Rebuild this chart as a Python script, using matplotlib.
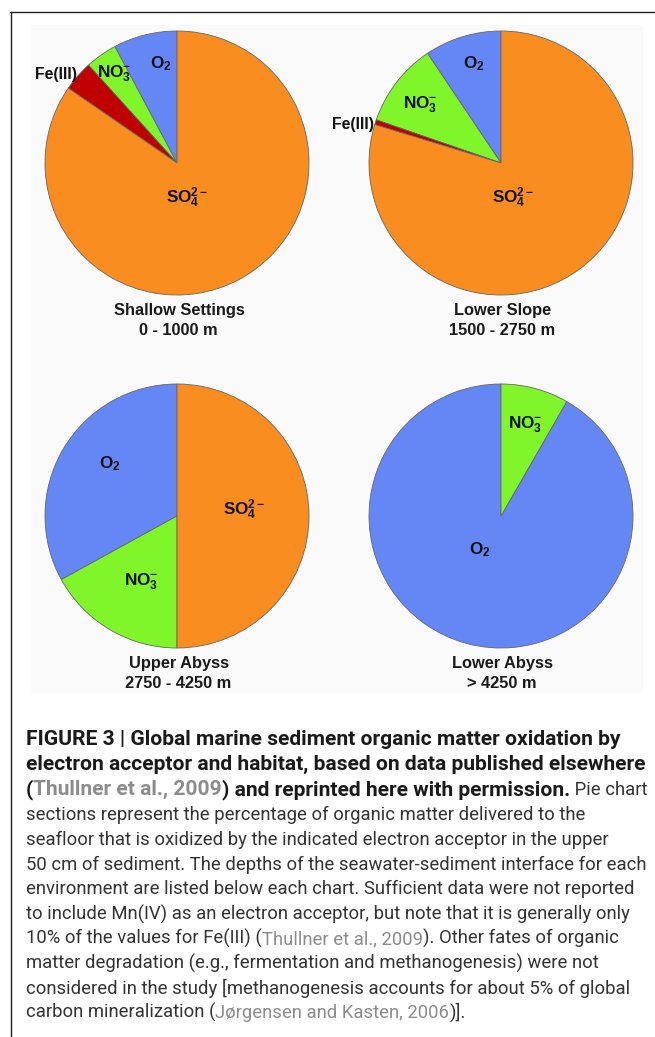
import matplotlib
matplotlib.use("Agg")
import matplotlib.pyplot as plt
from matplotlib.patches import Rectangle
from matplotlib.lines import Line2D
from matplotlib import font_manager

# ---------------- data ----------------
acceptors = ["O2", "NO3", "Fe(III)", "SO4"]
shallow_settings = [7.8, 3.9, 3.7, 84.6]
lower_slope = [9.4, 10.3, 0.6, 79.7]
upper_abyss = [33.0, 17.0, 0.0, 50.0]
lower_abyss = [91.7, 8.3, 0.0, 0.0]
habitats = ["Shallow Settings", "Lower Slope", "Upper Abyss", "Lower Abyss"]
depths = ["0 - 1000 m", "1500 - 2750 m", "2750 - 4250 m", "> 4250 m"]

colors = {"O2": "#6587f5", "NO3": "#80f52a", "Fe(III)": "#c00000", "SO4": "#f98d1f"}
label_text = {"O2": r"$\mathbf{O_2}$", "NO3": r"$\mathbf{NO_3^{-}}$",
              "Fe(III)": "Fe(III)", "SO4": r"$\mathbf{SO_4^{2-}}$"}

W, H = 655, 1037
plt.rcParams["mathtext.fontset"] = "custom"
plt.rcParams["mathtext.rm"] = "Liberation Sans:bold"
plt.rcParams["mathtext.bf"] = "Liberation Sans:bold"
plt.rcParams["mathtext.it"] = "Liberation Sans:bold"

fig = plt.figure(figsize=(W / 100, H / 100), dpi=100)
fig.patch.set_facecolor("white")

def fx(x):
    return x / W

def fy(y):
    return 1 - y / H

# frame lines
fig.add_artist(Line2D([fx(10), 1.0], [fy(11.5), fy(11.5)], color="#222222", lw=1.0))
fig.add_artist(Line2D([fx(10.5), fx(10.5)], [0, fy(11.5)], color="#222222", lw=1.0))
# panel background
fig.add_artist(Rectangle((fx(31), fy(693)), fx(643) - fx(31), fy(25) - fy(693),
                         transform=fig.transFigure, facecolor="#fafafa", edgecolor="none", zorder=0))

R = 132
centers = [(177, 163), (501, 163), (177, 516), (501, 516)]
series = [shallow_settings, lower_slope, upper_abyss, lower_abyss]

# label positions relative to pie (in radius units), (x, y, ha)
label_pos = [
    {"Fe(III)": (-0.758, 0.68, "right"), "NO3": (-0.605, 0.69, "left"),
     "O2": (-0.205, 0.76, "left"), "SO4": (-0.08, -0.26, "left")},
    {"O2": (-0.288, 0.76, "left"), "NO3": (-0.742, 0.455, "left"),
     "Fe(III)": (-0.962, 0.30, "right"), "SO4": (-0.07, -0.26, "left")},
    {"O2": (-0.59, 0.40, "left"), "SO4": (0.35, 0.045, "left"),
     "NO3": (-0.40, -0.49, "left")},
    {"NO3": (0.053, 0.70, "left"), "O2": (-0.24, -0.25, "left")},
]

for (cx, cy), vals, lp, hab, dep in zip(centers, series, label_pos, habitats, depths):
    ax = fig.add_axes([fx(cx - R), fy(cy + R), 2 * R / W, 2 * R / H])
    v = [val for val in vals if val > 0]
    c = [colors[a] for a, val in zip(acceptors, vals) if val > 0]
    ax.pie(v, colors=c, startangle=90, counterclock=True, radius=1.0,
           wedgeprops=dict(edgecolor="#666666", linewidth=0.6))
    ax.set_xlim(-1.0, 1.0)
    ax.set_ylim(-1.0, 1.0)
    ax.set_aspect("equal")
    ax.axis("off")
    for key, (lx, ly, ha) in lp.items():
        size = 11.3 if key == "Fe(III)" else 12.3
        ax.text(lx, ly - 0.04, label_text[key], ha=ha, va="baseline",
                fontsize=size, fontweight="bold", family="Liberation Sans",
                color="#111111", clip_on=False)
    fig.text(fx(cx + 2), fy(cy + 152), hab, ha="center", va="baseline",
             fontsize=11.8, fontweight="bold", family="Liberation Sans", color="#1a1a1a")
    fig.text(fx(cx + 1), fy(cy + 172), dep, ha="center", va="baseline",
             fontsize=11.8, fontweight="bold", family="Liberation Sans", color="#1a1a1a")

# ---------------- caption ----------------
names = {f.name for f in font_manager.fontManager.ttflist}
cap_family = "Roboto" if "Roboto" in names else "DejaVu Sans"
renderer = fig.canvas.get_renderer()

def width(s, size, weight):
    t = fig.text(0, 0, s, fontsize=size, fontweight=weight, family=cap_family)
    w = t.get_window_extent(renderer).width
    t.remove()
    return w

def adv(s, size, weight):
    return width("X" + s + "X", size, weight) - width("XX", size, weight)

BK, NR, GR = "#1a1a1a", "#333333", "#8c8c8c"
# scale fonts so that reference line widths match
reg_size = 10 * 622 / adv("50 cm of sediment. The depths of the seawater-sediment interface for each", 10, "normal")
bold_size = 10 * 622 / adv("electron acceptor and habitat, based on data published elsewhere", 10, "bold")

caption_lines = [
    [("FIGURE 3 | Global marine sediment organic matter oxidation by", "bold", BK)],
    [("electron acceptor and habitat, based on data published elsewhere", "bold", BK)],
    [("(", "bold", BK), ("Thullner et al., 2009", "bold", GR),
     (") and reprinted here with permission.", "bold", BK), (" Pie chart", "normal", NR)],
    [("sections represent the percentage of organic matter delivered to the", "normal", NR)],
    [("seafloor that is oxidized by the indicated electron acceptor in the upper", "normal", NR)],
    [("50 cm of sediment. The depths of the seawater-sediment interface for each", "normal", NR)],
    [("environment are listed below each chart. Sufficient data were not reported", "normal", NR)],
    [("to include Mn(IV) as an electron acceptor, but note that it is generally only", "normal", NR)],
    [("10% of the values for Fe(III) (", "normal", NR), ("Thullner et al., 2009", "normal", GR),
     ("). Other fates of organic", "normal", NR)],
    [("matter degradation (e.g., fermentation and methanogenesis) were not", "normal", NR)],
    [("considered in the study [methanogenesis accounts for about 5% of global", "normal", NR)],
    [("carbon mineralization (", "normal", NR), ("Jørgensen and Kasten, 2006", "normal", GR),
     (")].", "normal", NR)],
]
baselines = [745, 770, 795, 820, 845, 869.5, 894.5, 919.5, 944, 969, 993.5, 1018]

for segs, yb in zip(caption_lines, baselines):
    x = 26.0
    for s, wt, col in segs:
        size = bold_size if wt == "bold" else reg_size
        fig.text(fx(x), fy(yb), s, fontsize=size, fontweight=wt, family=cap_family,
                 color=col, ha="left", va="baseline")
        x += adv(s, size, wt)

fig.savefig("out.png", dpi=100, facecolor="white")
